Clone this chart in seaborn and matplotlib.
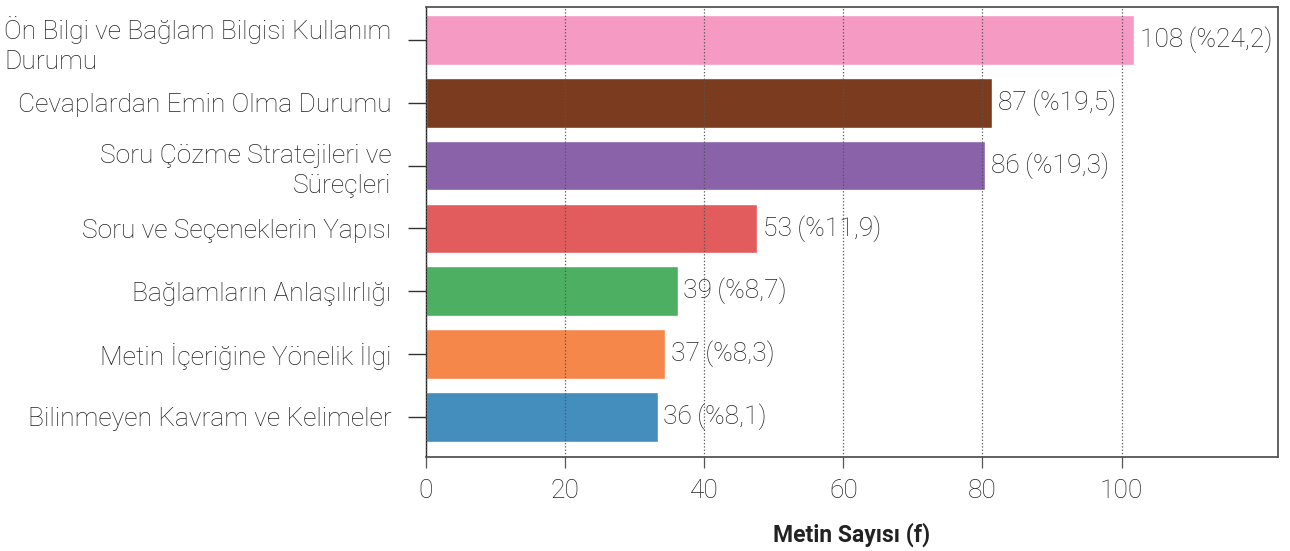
import matplotlib
matplotlib.use("Agg")
import matplotlib.pyplot as plt
import seaborn as sns
import pandas as pd

categories = [
    "Ön Bilgi ve Bağlam Bilgisi Kullanım\nDurumu",
    "Cevaplardan Emin Olma Durumu",
    "Soru Çözme Stratejileri ve\nSüreçleri",
    "Soru ve Seçeneklerin Yapısı",
    "Bağlamların Anlaşılırlığı",
    "Metin İçeriğine Yönelik İlgi",
    "Bilinmeyen Kavram ve Kelimeler",
]
# bar lengths
bar_lengths = [101.8, 81.4, 80.4, 47.6, 36.2, 34.4, 33.3]
counts = [108, 87, 86, 53, 39, 37, 36]
percents = ["24,2", "19,5", "19,3", "11,9", "8,7", "8,3", "8,1"]
colors = ["#F49AC3", "#7A3B1F", "#8A62AA", "#E25B5D", "#4CAF62", "#F5874B", "#448EBE"]
x_ticks = [0, 20, 40, 60, 80, 100]

sns.set_theme(style="white")
plt.rcParams["font.family"] = ["Roboto", "DejaVu Sans"]

df = pd.DataFrame({"cat": categories, "val": bar_lengths})

fig = plt.figure(figsize=(12.9, 5.51), dpi=100)
ax = fig.add_axes([0.3302, 0.1706, 0.6605, 0.8167])

sns.barplot(data=df, x="val", y="cat", hue="cat", palette=colors,
            orient="h", width=0.79, legend=False, ax=ax, saturation=1)

text_color = "#222222"
fs = 19
for i, (v, c, p) in enumerate(zip(bar_lengths, counts, percents)):
    ax.annotate(f"{c}\u2009(%{p})", xy=(v, i), xytext=(4, 0), textcoords="offset points",
                ha="left", va="center", fontsize=fs, fontweight="light",
                color=text_color)

ax.set_xlim(0, 122.5)
ax.set_ylim(6.64, -0.525)
ax.set_xticks(x_ticks)
ax.set_xticklabels([str(t) for t in x_ticks], fontsize=fs, fontweight="light", color=text_color)
ax.set_yticks(range(len(categories)))
ax.set_yticklabels(categories, fontsize=fs, fontweight="light", color=text_color,
                   linespacing=1.3)
lbl0 = ax.get_yticklabels()[0]
lbl0.set_multialignment("left")

ax.grid(axis="x", linestyle=":", color="#555555", linewidth=0.9)
ax.grid(axis="y", visible=False)
ax.set_axisbelow(False)
for bar in ax.patches:
    bar.set_zorder(1)

ax.tick_params(axis="y", which="major", left=True, length=13, width=1, color="#333333", pad=12)
ax.tick_params(axis="x", which="major", bottom=True, length=8, width=0.9, color="#555555", pad=8)
for tl in ax.xaxis.get_ticklines():
    tl.set_linestyle((0, (1, 1)))

for name, sp in ax.spines.items():
    sp.set_visible(True)
    sp.set_color("#555555")
    sp.set_linewidth(1.3)
ax.spines["left"].set_color("#222222")
ax.spines["left"].set_linewidth(1.0)

ax.set_ylabel("")
ax.set_xlabel("Metin Sayısı (f)", fontsize=16.5, fontweight="bold", color="#222222", labelpad=14)

fig.savefig("out.png", dpi=100)
